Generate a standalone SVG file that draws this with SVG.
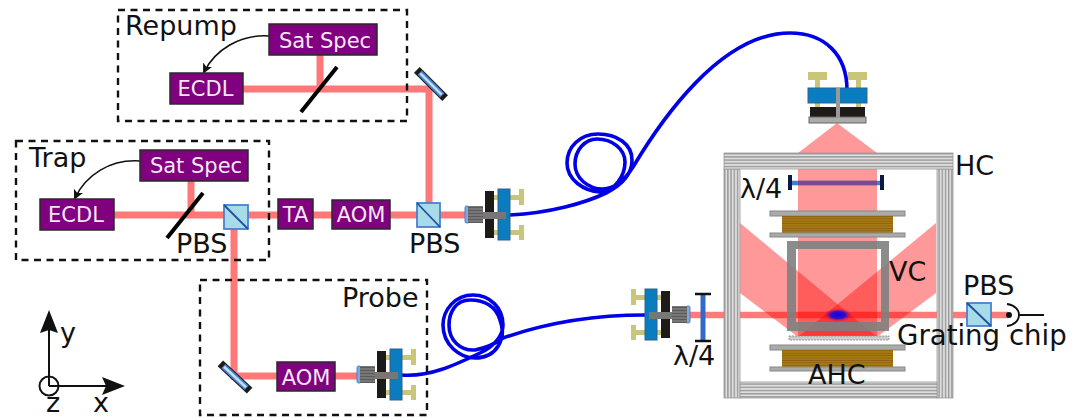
<svg xmlns="http://www.w3.org/2000/svg" xmlns:xlink="http://www.w3.org/1999/xlink" width="1083" height="418" viewBox="0 0 1083 418">
<style>
text{font-family:"DejaVu Sans",sans-serif;fill:#111}
.lab{font-size:27px}
.box rect{fill:#800080;stroke:#2a2a2a;stroke-width:1.5}
.box text{fill:#f4e8f4;font-size:21px;text-anchor:middle}
.dash{fill:none;stroke:#111;stroke-width:2.4;stroke-dasharray:7 5.5}
.beam{fill:none;stroke:#ff7878;stroke-width:7}
.fiber{fill:none;stroke:#0000e6;stroke-width:3.6}
.bs{stroke:#000;stroke-width:4}
.fb{fill:none;stroke:#111;stroke-width:1.6}
.pbs{fill:#a8dbe8;stroke:#4a80d0;stroke-width:1.8}
.pbsd{stroke:#1f4f9f;stroke-width:1.8}
.wide{fill:#f00;fill-opacity:.4}
.plate{fill:#aaa;stroke:#888;stroke-width:1}
.ax{stroke:#111;stroke-width:2;fill:none}
</style>
<defs>
<pattern id="hs" width="10" height="3.2" patternUnits="userSpaceOnUse" y="153"><rect width="10" height="3.2" fill="#dedede"/><rect width="10" height="1.4" fill="#999"/></pattern>
<pattern id="vs" width="3.2" height="10" patternUnits="userSpaceOnUse" x="724"><rect width="3.2" height="10" fill="#dedede"/><rect width="1.4" height="10" fill="#999"/></pattern>
<pattern id="coil" width="10" height="2.4" patternUnits="userSpaceOnUse"><rect width="10" height="2.4" fill="#a87a14"/><rect width="10" height=".8" fill="#8a5f10"/></pattern>
<pattern id="knurl" width="10" height="3" patternUnits="userSpaceOnUse"><rect width="10" height="3" fill="#777"/><rect width="10" height="1" fill="#5a5a5a"/></pattern>
<radialGradient id="mot"><stop offset="0" stop-color="#1000e0"/><stop offset=".5" stop-color="#3010d0"/><stop offset="1" stop-color="#ff2020" stop-opacity="0"/></radialGradient>
<marker id="ah" markerWidth="11" markerHeight="11" refX="8" refY="5" orient="auto" markerUnits="userSpaceOnUse"><path d="M0,0 L10,5 L0,10 L2.500,5 Z" fill="#111"/></marker>
<g id="coll">
<rect x="465" y="206" width="4" height="17" rx="1.5" fill="#7fa8dc" stroke="#4a80d0"/>
<rect x="468" y="206" width="15" height="17" fill="url(#knurl)"/>
<rect x="510" y="195" width="10" height="5" fill="#c9c67a"/><rect x="519" y="189" width="5" height="16" fill="#c9c67a"/>
<rect x="510" y="230" width="10" height="5" fill="#c9c67a"/><rect x="519" y="225" width="5" height="15" fill="#c9c67a"/>
<rect x="494" y="195" width="4" height="5" fill="#c9c67a"/><rect x="494" y="230" width="4" height="5" fill="#c9c67a"/>
<rect x="485" y="191" width="9" height="47" fill="#1d1a18"/>
<rect x="498" y="189" width="12" height="51" fill="#0a7cc0" stroke="#33618a"/>
<rect x="483" y="212" width="23" height="7" fill="#777"/>
</g>
<g id="mirror">
<line x1="-20" y1="0" x2="20" y2="0" stroke="#1d1a18" stroke-width="8"/>
<line x1="-16" y1="0" x2="16" y2="0" stroke="#4a80d0" stroke-width="6"/>
<line x1="-15" y1="0" x2="15" y2="0" stroke="#bde0f5" stroke-width="2.5"/>
</g>
</defs>
<rect width="1083" height="418" fill="#fff"/>
<g id="connectors">
<path class="beam" d="M243,89 H429 V203"/>
<path class="beam" d="M320,55 V89"/>
<path class="beam" d="M114,215 H467"/>
<path class="beam" d="M191,181 V215"/>
<path class="beam" d="M234,229 V376 H358"/>
<path class="fb" marker-end="url(#ah)" d="M269,36 C240,34 215,50 204,72"/>
<path class="fb" marker-end="url(#ah)" d="M140,161 C110,159 86,175 75,198"/>
<path class="fiber" d="M510,215 C550,213 585,203 606,193 C622,185 632,175 632,160 C632,144 617,134 598,134 C580,134 567,147 567,163 C567,180 584,191 600,192 C615,192 625,175 625,162 C625,149 612,139 597,139 C585,139 575,150 575,164 C575,178 588,189 603,189 C614,189 624,181 633,167 C660,122 720,33 790,33 C825,33 847,55 847,90"/>
<path class="fiber" d="M402,375 C430,377 455,365 480,353 C495,346 503,335 503,325 C503,308 490,295 473,295 C455,295 443,310 443,325 C443,345 460,358 475,358 C497,358 507,338 500,320 C496,307 485,300 470,300 C456,300 449,312 449,325 C449,340 460,351 475,350 C485,348 495,344 503,338 C540,325 590,315 645,315"/>
</g>
<g id="mot-beams">
<path class="wide" d="M837,123 L798,153 H877 Z"/>
<rect class="wide" x="798" y="153" width="79" height="184"/>
<path class="wide" d="M740,223 L877,337 H798 L740,293 Z"/>
<path class="wide" d="M936,223 L798,337 H877 L936,293 Z"/>
<path d="M690,315 H1008" fill="none" stroke="#ff0000" stroke-opacity=".52" stroke-width="6.5"/>
<ellipse cx="838" cy="315" rx="15" ry="7" fill="url(#mot)"/>
</g>
<g id="hc">
<rect x="724" y="169" width="16" height="229" fill="url(#vs)" stroke="#999" stroke-width=".8"/>
<rect x="937" y="169" width="16" height="229" fill="url(#vs)" stroke="#999" stroke-width=".8"/>
<rect x="740" y="382" width="197" height="16" fill="url(#hs)" stroke="#999" stroke-width=".8"/>
<rect x="724" y="153" width="229" height="16" fill="url(#hs)" stroke="#999" stroke-width=".8"/>
</g>
<g id="top-waveplate">
<line x1="792" y1="183" x2="880" y2="183" stroke="#3f7fd0" stroke-width="4.5"/>
<line x1="798" y1="183" x2="877" y2="183" stroke="#7a4a8c" stroke-width="4.5"/>
<rect x="788" y="175" width="4" height="15" fill="#0a1a44"/><rect x="880" y="175" width="4" height="15" fill="#0a1a44"/>
</g>
<g id="ahc">
<rect class="plate" x="770" y="211" width="135" height="5"/><rect x="782" y="216" width="111" height="17" fill="url(#coil)"/><rect class="plate" x="770" y="233" width="135" height="4"/>
<rect class="plate" x="770" y="345" width="135" height="5"/><rect x="782" y="350" width="111" height="17" fill="url(#coil)"/><rect class="plate" x="770" y="367" width="135" height="4"/>
</g>
<g id="vc"><path fill="#808080" fill-opacity=".9" fill-rule="evenodd" d="M787,241 H889 V331 H787 Z M796,249 V322 H881 V249 Z"/></g>
<g id="grating"><rect x="789" y="336" width="100" height="4" fill="#ccc" stroke="#888" stroke-width=".8" stroke-dasharray="2 1"/></g>
<g id="top-coll">
<rect x="815" y="80" width="5" height="27" fill="#c9c67a"/><rect x="856" y="80" width="5" height="27" fill="#c9c67a"/>
<rect x="808" y="72" width="19" height="8" fill="#c9c67a"/><rect x="848" y="72" width="19" height="8" fill="#c9c67a"/>
<rect x="808" y="88" width="59" height="15" fill="#0a7cc0" stroke="#33618a"/>
<rect x="810" y="107" width="55" height="10" fill="#1d1a18"/>
<rect x="809" y="117" width="57" height="6" fill="#aaa" stroke="#666"/>
<rect x="836" y="88" width="4" height="30" fill="#999"/>
</g>
<use id="coll-trap" xlink:href="#coll" href="#coll"/>
<use id="coll-probe" xlink:href="#coll" href="#coll" transform="translate(-108,160)"/>
<use id="coll-mot" xlink:href="#coll" href="#coll" transform="translate(1155,100) scale(-1,1)"/>
<g id="left-waveplate">
<line x1="703" y1="294" x2="703" y2="341" stroke="#3468c8" stroke-width="5"/>
<path d="M695,294 H711 M695,341 H711" stroke="#111" stroke-width="2.4"/>
</g>
<use id="mirror-repump" xlink:href="#mirror" href="#mirror" transform="translate(431,84) rotate(45)"/>
<use id="mirror-probe" xlink:href="#mirror" href="#mirror" transform="translate(235,377) rotate(43)"/>
<line id="bs-repump" class="bs" x1="301" y1="112" x2="337" y2="67"/>
<line id="bs-trap" class="bs" x1="167" y1="238" x2="203" y2="193"/>
<g id="pbs1"><rect class="pbs" x="224" y="205" width="24" height="24"/><line class="pbsd" x1="224" y1="205" x2="248" y2="229"/></g>
<g id="pbs2"><rect class="pbs" x="417" y="203" width="23" height="24"/><line class="pbsd" x1="417" y1="203" x2="440" y2="227"/></g>
<g id="pbs3"><rect class="pbs" x="967" y="303" width="24" height="23"/><line class="pbsd" x1="967" y1="303" x2="991" y2="326"/></g>
<g id="detector"><circle cx="1009" cy="315" r="3" fill="#111"/><path d="M1007,304 C1015,305 1019,310 1019,315 C1019,320 1015,325 1007,326 M1019,315 H1044" fill="none" stroke="#111" stroke-width="1.8"/></g>
<g id="sat-repump" class="box"><rect x="269" y="24" width="108" height="31"/><text x="325" y="48">Sat Spec</text></g>
<g id="ecdl-repump" class="box"><rect x="170" y="73" width="73" height="31"/><text x="205.500" y="96">ECDL</text></g>
<g id="sat-trap" class="box"><rect x="140" y="150" width="108" height="31"/><text x="196" y="173">Sat Spec</text></g>
<g id="ecdl-trap" class="box"><rect x="40" y="199" width="74" height="31"/><text x="76" y="222">ECDL</text></g>
<g id="ta" class="box"><rect x="278" y="199" width="35" height="30"/><text x="295.500" y="222">TA</text></g>
<g id="aom1" class="box"><rect x="332" y="200" width="58" height="29"/><text x="361" y="222">AOM</text></g>
<g id="aom2" class="box"><rect x="277" y="362" width="58" height="29"/><text x="306" y="385">AOM</text></g>
<rect id="repump-box" class="dash" x="118" y="10" width="289" height="111"/>
<rect id="trap-box" class="dash" x="16" y="141" width="253" height="119"/>
<rect id="probe-box" class="dash" x="200" y="280" width="227" height="135"/>
<g id="axes">
<path class="ax" d="M49,386 V325 M49,386 H110"/>
<circle class="ax" cx="49" cy="386" r="9.500"/>
<path d="M49,310 L58,333 L49,330 L40,333 Z M125,386 L102,377 L106,386 L102,395 Z" fill="#111"/>
</g>
<g id="labels">
<text class="lab" x="125" y="35">Repump</text>
<text class="lab" x="29" y="167">Trap</text>
<text class="lab" x="176" y="253">PBS</text>
<text class="lab" x="409" y="253">PBS</text>
<text class="lab" x="342" y="307">Probe</text>
<text class="lab" x="740" y="198">λ/4</text>
<text class="lab" x="955" y="175">HC</text>
<text class="lab" x="889" y="281">VC</text>
<text class="lab" x="963" y="295">PBS</text>
<text class="lab" x="897" y="345" style="font-size:27.6px">Grating chip</text>
<text class="lab" x="808" y="384">AHC</text>
<text class="lab" x="673" y="365">λ/4</text>
<text class="lab" x="60" y="342">y</text>
<text class="lab" x="46" y="412">z</text>
<text class="lab" x="93" y="412">x</text>
</g>
</svg>
